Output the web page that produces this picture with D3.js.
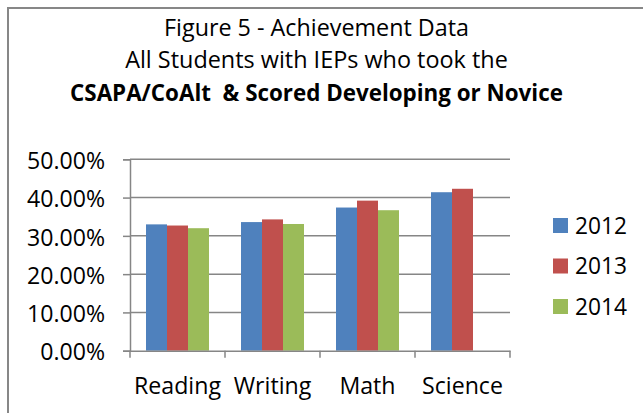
<!DOCTYPE html>
<meta charset="utf-8">
<script src="https://d3js.org/d3.v7.min.js"></script>
<style>
  body { margin: 0; background: #fff; }
  text { font-family: "Open Sans", sans-serif; fill: #000; }
</style>
<div id="chart"></div>
<script>
  // data
  var subjects = ["Reading", "Writing", "Math", "Science"];
  var years = ["2012", "2013", "2014"];
  var values2012 = [0.330, 0.336, 0.374, 0.414];
  var values2013 = [0.327, 0.343, 0.392, 0.423];
  var values2014 = [0.320, 0.331, 0.367, null];
  var yTicks = [0, 0.1, 0.2, 0.3, 0.4, 0.5];
  var colors = ["#4f81bd", "#c0504d", "#9bbb59"];
  var titleLines = ["Figure 5 - Achievement Data", "All Students with IEPs who took the",
                    "CSAPA/CoAlt  & Scored Developing or Novice"];

  var series = [values2012, values2013, values2014];

  var W = 643, H = 413;
  var svg = d3.select("#chart").append("svg")
    .attr("width", W).attr("height", H);

  // the original uses Calibri, so size each text to the width it has there
  function fitWidth(sel, target) {
    var w = sel.node().getComputedTextLength();
    var fs = parseFloat(sel.style("font-size"));
    return fs * target / w;
  }

  // outer frame (runs off the right and bottom edges)
  svg.append("rect")
    .attr("x", 8).attr("y", 8)
    .attr("width", 700).attr("height", 500)
    .attr("fill", "none")
    .attr("stroke", "#878787")
    .attr("stroke-width", 2);

  // title
  var titleWidths = [305, 383, 493];
  svg.selectAll("text.title")
    .data(titleLines)
    .enter().append("text")
    .attr("class", "title")
    .attr("x", 316.5)
    .attr("y", (d, i) => 36 + i * 32.4)
    .attr("text-anchor", "middle")
    .style("font-size", "20px")
    .style("font-weight", (d, i) => i == 2 ? "bold" : "normal")
    .style("white-space", "pre")
    .text(d => d)
    .each(function(d, i) {
      var t = d3.select(this);
      t.style("font-size", fitWidth(t, titleWidths[i]) + "px");
    });

  var plotL = 130, plotR = 510, plotT = 159.3, plotB = 350.7;

  var x = d3.scaleBand().domain(subjects).range([plotL, plotR]);
  var xs = d3.scaleBand().domain(years).range([16, x.bandwidth() - 16]);
  var y = d3.scaleLinear().domain([0, 0.5]).range([plotB, plotT]);

  // gridlines
  svg.append("g")
    .selectAll("line")
    .data(yTicks.slice(1))
    .enter().append("line")
    .attr("x1", plotL).attr("x2", plotR)
    .attr("y1", d => y(d)).attr("y2", d => y(d))
    .attr("stroke", "#868686")
    .attr("stroke-width", 1.5);

  // bars
  subjects.forEach(function(s, i) {
    series.forEach(function(vals, j) {
      if (vals[i] == null) return;
      svg.append("rect")
        .attr("x", x(s) + xs(years[j]))
        .attr("y", y(vals[i]))
        .attr("width", xs.bandwidth())
        .attr("height", plotB - y(vals[i]))
        .attr("fill", colors[j]);
    });
  });

  // y axis
  var yAxis = svg.append("g")
    .attr("transform", "translate(" + plotL + ",0)")
    .call(d3.axisLeft(y).tickValues(yTicks).tickFormat(d => (d * 100).toFixed(2) + "%")
      .tickSizeOuter(0).tickSize(7).tickPadding(18));
  yAxis.select(".domain").attr("stroke", "#868686").attr("stroke-width", 1.5);
  yAxis.selectAll(".tick line").attr("stroke", "#868686").attr("stroke-width", 1.5);
  var yLabels = yAxis.selectAll(".tick text").attr("font-family", null).attr("font-size", null)
    .style("font-size", "20px");
  var yfs = fitWidth(yAxis.select(".tick:last-of-type text"), 78);
  yLabels.style("font-size", yfs + "px").attr("dy", "0.4em");

  // x axis
  var xAxis = svg.append("g")
    .attr("transform", "translate(0," + plotB + ")")
    .call(d3.axisBottom(x).tickSize(0).tickSizeOuter(0));
  xAxis.select(".domain").attr("stroke", "#868686").attr("stroke-width", 1.5);
  var xLabels = xAxis.selectAll(".tick text").attr("font-family", null).attr("font-size", null)
    .style("font-size", "20px");
  var xfs = fitWidth(xAxis.select(".tick text"), 87);
  xLabels.style("font-size", xfs + "px").attr("y", 394 - plotB).attr("dy", 0);
  xAxis.selectAll("line.sep")
    .data(d3.range(subjects.length + 1))
    .enter().append("line")
    .attr("class", "sep")
    .attr("x1", i => plotL + i * x.bandwidth()).attr("x2", i => plotL + i * x.bandwidth())
    .attr("y1", 0).attr("y2", 7)
    .attr("stroke", "#868686").attr("stroke-width", 1.5);

  // legend
  var legend = svg.append("g").selectAll("g")
    .data(years)
    .enter().append("g")
    .attr("transform", (d, i) => "translate(553," + (218 + i * 40.5) + ")");
  legend.append("rect")
    .attr("width", 15).attr("height", 15)
    .attr("fill", (d, i) => colors[i]);
  var legendText = legend.append("text")
    .attr("x", 22).attr("y", 15.5)
    .style("font-size", "20px")
    .text(d => d);
  var lfs = fitWidth(legendText, 52);
  legendText.style("font-size", lfs + "px");
</script>
